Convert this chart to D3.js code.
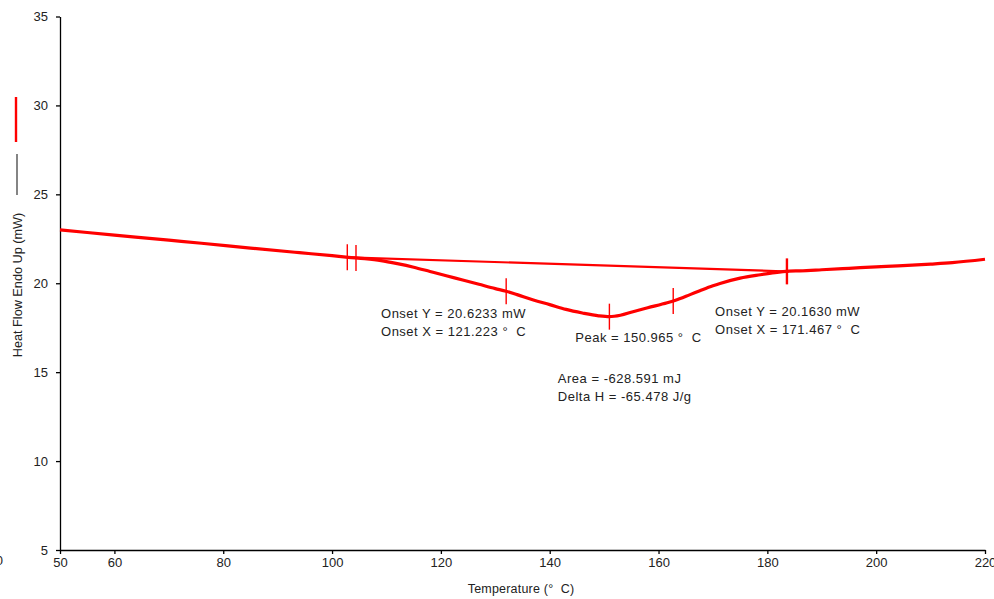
<!DOCTYPE html>
<html>
<head>
<meta charset="utf-8">
<script src="https://cdn.jsdelivr.net/npm/d3@7"></script>
<style>
  html, body { margin: 0; padding: 0; background: #fff; }
  svg { display: block; }
  text { font-family: "Liberation Sans", Arial, sans-serif; fill: #222; white-space: pre; }
</style>
</head>
<body>
<div id="chart"></div>
<script>
(function() {

  var width = 994;
  var height = 599;
  var margin = ({top: 16.5, right: 9, bottom: 49, left: 60});

  // DSC trace (temperature in deg C, heat flow in mW)
  var temps = [50, 60, 70, 76, 85, 94, 100, 103, 106, 109, 112, 115, 118, 121, 124, 127, 130, 132, 134, 137,
    140, 143, 146, 149, 151, 153, 155.3, 158, 161.6, 163, 165.8, 167.6, 170, 171.3, 175, 178.7, 181.4, 184,
    186, 190, 195, 200, 204, 210, 214, 220];
  var heatFlow = [23.00, 22.71, 22.42, 22.25, 21.98, 21.72, 21.55, 21.46, 21.38, 21.27, 21.10, 20.90, 20.66, 20.42, 20.18, 19.94, 19.70, 19.55, 19.36, 19.06,
    18.80, 18.53, 18.33, 18.17, 18.12, 18.20, 18.40, 18.62, 18.90, 19.03, 19.36, 19.58, 19.86, 19.99, 20.29, 20.48, 20.60, 20.68,
    20.70, 20.76, 20.84, 20.92, 20.98, 21.08, 21.16, 21.35];

  // integration baseline end points
  var baseTemps = [103, 184];
  var baseFlow = [21.46, 20.66];

  // vertical cross marks along the trace
  var markTemps = [102.8, 104.4, 132, 150.97, 162.7, 183.6];

  var xTicks = [50, 60, 80, 100, 120, 140, 160, 180, 200, 220];
  var yTicks = [5, 10, 15, 20, 25, 30, 35];

  // annotation anchors (temperature, heat flow of first baseline)
  var notes = [
    {t: 109.0, v: 18.05, lines: ["Onset Y = 20.6233 mW", "Onset X = 121.223 °  C"]},
    {t: 144.7, v: 16.70, lines: ["Peak = 150.965 °  C"]},
    {t: 141.5, v: 14.39, lines: ["Area = -628.591 mJ", "Delta H = -65.478 J/g"]},
    {t: 170.4, v: 18.16, lines: ["Onset Y = 20.1630 mW", "Onset X = 171.467 °  C"]}
  ];

  var data = temps.map((t, i) => ({t: t, v: heatFlow[i]}));

  var x = d3.scaleLinear()
    .domain([50, 220])
    .range([margin.left, width - margin.right]);

  var y = d3.scaleLinear()
    .domain([5, 35])
    .range([height - margin.bottom, margin.top]);

  var svg = d3.select("#chart")
    .append("svg")
    .attr("width", width)
    .attr("height", height);

  var xAxis = function(g) {
    g.attr("transform", `translate(0,${height - margin.bottom})`)
      .call(d3.axisBottom(x).tickValues(xTicks).tickSize(4).tickSizeOuter(0).tickPadding(4))
      .call(g => g.selectAll("path, line").attr("stroke", "#000").attr("stroke-width", 1.3))
      .call(g => g.selectAll("text").attr("font-size", 13).attr("font-family", null).attr("fill", "#222"));
  };

  var yAxis = function(g) {
    g.attr("transform", `translate(${margin.left},0)`)
      .call(d3.axisLeft(y).tickValues(yTicks).tickSize(4).tickSizeOuter(0).tickPadding(8))
      .call(g => g.selectAll("path, line").attr("stroke", "#000").attr("stroke-width", 1.3))
      .call(g => g.selectAll("text").attr("font-size", 13).attr("font-family", null).attr("fill", "#222"));
  };

  svg.append("g").call(xAxis);
  svg.append("g").call(yAxis);

  // axis titles
  svg.append("text")
    .attr("x", 521)
    .attr("y", 593)
    .attr("text-anchor", "middle")
    .attr("font-size", 12.5)
    .attr("letter-spacing", 0.2)
    .text("Temperature (°  C)");

  svg.append("text")
    .attr("transform", "translate(22,285) rotate(-90)")
    .attr("text-anchor", "middle")
    .attr("font-size", 12.7)
    .text("Heat Flow Endo Up (mW)");

  // legend strokes beside the y title
  svg.append("line")
    .attr("x1", 17).attr("x2", 17).attr("y1", 154).attr("y2", 195)
    .attr("stroke", "#333").attr("stroke-width", 1.2);
  svg.append("line")
    .attr("x1", 16).attr("x2", 16).attr("y1", 97).attr("y2", 142)
    .attr("stroke", "#ff0000").attr("stroke-width", 2.4);

  // clipped leftover label at the bottom-left edge
  svg.append("text")
    .attr("x", 3).attr("y", 565)
    .attr("text-anchor", "end")
    .attr("font-size", 13)
    .text("0");

  var line = d3.line()
    .x(d => x(d.t))
    .y(d => y(d.v));

  // baseline
  svg.append("path")
    .datum(baseTemps.map((t, i) => ({t: t, v: baseFlow[i]})))
    .attr("fill", "none")
    .attr("stroke", "#ff0000")
    .attr("stroke-width", 2.2)
    .attr("d", line);

  // trace
  svg.append("path")
    .datum(data)
    .attr("fill", "none")
    .attr("stroke", "#ff0000")
    .attr("stroke-width", 3.2)
    .attr("stroke-linejoin", "round")
    .attr("d", line.curve(d3.curveMonotoneX));

  var bis = d3.bisector(d => d.t).left;
  var valueAt = function(t) {
    var i = Math.max(1, Math.min(data.length - 1, bis(data, t)));
    var a = data[i - 1], b = data[i];
    return a.v + (b.v - a.v) * (t - a.t) / (b.t - a.t);
  };

  svg.append("g")
    .selectAll("line")
    .data(markTemps)
    .join("line")
      .attr("x1", d => x(d))
      .attr("x2", d => x(d))
      .attr("y1", d => y(valueAt(d)) - 13)
      .attr("y2", d => y(valueAt(d)) + 13)
      .attr("stroke", "#ff0000")
      .attr("stroke-width", (d, i) => i === markTemps.length - 1 ? 2.4 : 1.4);

  // annotations
  var note = svg.append("g")
    .selectAll("text")
    .data(notes)
    .join("text")
      .attr("x", d => x(d.t))
      .attr("y", d => y(d.v))
      .attr("font-size", 13)
      .attr("letter-spacing", 0.5);

  note.selectAll("tspan")
    .data(d => d.lines.map(l => ({l: l, x: x(d.t)})))
    .join("tspan")
      .attr("x", d => d.x)
      .attr("dy", (d, i) => i === 0 ? 0 : 18)
      .text(d => d.l);

})();
</script>
</body>
</html>
